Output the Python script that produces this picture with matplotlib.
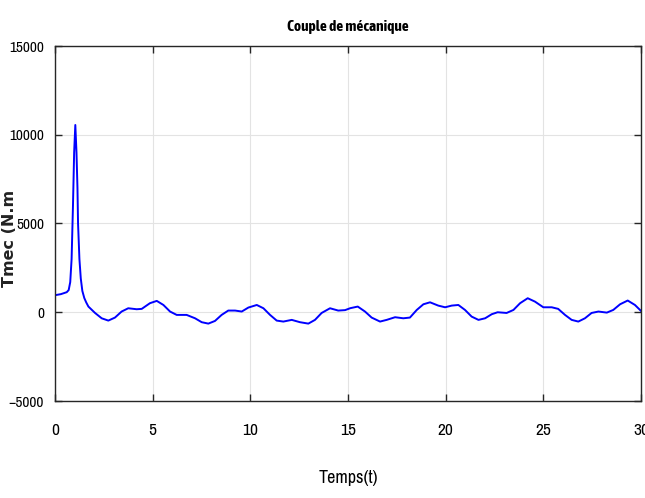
import matplotlib
matplotlib.use('Agg')
import matplotlib.pyplot as plt
from matplotlib import font_manager

# mechanical torque samples (time in s, torque in N.m)
t = [0.0, 0.3, 0.6, 0.7, 0.78, 0.85, 0.92, 0.98, 1.04, 1.1, 1.15, 1.18,
     1.25, 1.32, 1.4, 1.5, 1.6, 1.71, 2.05, 2.39, 2.73, 3.07, 3.41, 3.75,
     4.18, 4.44, 4.86, 5.21, 5.55, 5.89, 6.23, 6.74, 7.17, 7.51, 7.85,
     8.19, 8.53, 8.87, 9.22, 9.56, 9.90, 10.33, 10.67, 11.01, 11.35, 11.69,
     12.12, 12.54, 12.97, 13.31, 13.65, 14.08, 14.50, 14.85, 15.12, 15.50,
     15.87, 16.21, 16.64, 16.98, 17.41, 17.83, 18.17, 18.52, 18.86, 19.20,
     19.62, 19.97, 20.31, 20.65, 20.99, 21.33, 21.68, 22.02, 22.36, 22.66,
     23.12, 23.47, 23.81, 24.20, 24.57, 25.00, 25.43, 25.76, 26.11, 26.45,
     26.79, 27.13, 27.47, 27.82, 28.25, 28.58, 28.93, 29.32, 29.69, 30.0]
tmec = [960, 1020, 1130, 1250, 1700, 3000, 6000, 9000, 10550, 9000, 7000,
        5000, 3000, 1900, 1200, 800, 550, 320, -40, -340, -470, -300, 40,
        225, 170, 190, 510, 640, 410, 40, -150, -150, -340, -560, -640,
        -490, -150, 95, 95, 40, 265, 410, 225, -150, -470, -525, -430,
        -560, -640, -430, -40, 225, 95, 120, 230, 320, 40, -300, -525,
        -430, -280, -340, -300, 130, 450, 560, 375, 280, 375, 410, 130,
        -245, -430, -340, -110, 0, -40, 130, 510, 790, 600, 280, 280, 190,
        -150, -430, -525, -340, -40, 40, -20, 130, 450, 660, 410, 75]

xticks = [0, 5, 10, 15, 20, 25, 30]
yticks = [-5000, 0, 5000, 10000, 15000]


def weight_of(f):
    w = f.weight
    if isinstance(w, str):
        w = font_manager.weight_dict.get(w, 400)
    return w


# prefer a narrow face if one is installed
narrow = [f for f in font_manager.fontManager.ttflist
          if 'Narrow' in f.name or 'Condensed' in f.name]
sans = sorted(set(f.name for f in narrow))[:1] + ['Liberation Sans', 'DejaVu Sans']
sans_bold = sorted(set(f.name for f in narrow if weight_of(f) >= 600))[:1] + sans

fig = plt.figure(figsize=(6.45, 4.98), dpi=100)
ax = fig.add_axes([55 / 645, 1 - 401 / 498, 586 / 645, 355 / 498])

ax.plot(t, tmec, color='#0000ff', lw=1.4, solid_joinstyle='round')

ax.set_xlim(0, 30)
ax.set_ylim(-5000, 15000)
ax.set_xticks(xticks)
ax.set_yticks(yticks)
ax.grid(True, color='#e3e3e3', lw=0.8)
ax.set_axisbelow(True)

ax.tick_params(direction='in', length=5, width=1, top=True, right=True,
               color='#262626', labelsize=12.5)
ax.tick_params(axis='x', pad=16)
ax.tick_params(axis='y', pad=8, labelsize=11)
for lab in ax.get_xticklabels() + ax.get_yticklabels():
    lab.set_family(sans)
for sp in ax.spines.values():
    sp.set_color('#262626')
    sp.set_linewidth(1.0)

ax.set_title('Couple de mécanique', family=sans_bold, fontsize=11,
             fontweight='bold', pad=11)
ax.set_xlabel('Temps(t)', family=sans, fontsize=13, labelpad=23)
fig.text(10 / 645, 1 - 238 / 498, 'Tmec (N.m', rotation=90, ha='center',
         va='center', fontsize=11.5, fontweight='bold', color='#222222')

fig.savefig('out.png', dpi=100)
